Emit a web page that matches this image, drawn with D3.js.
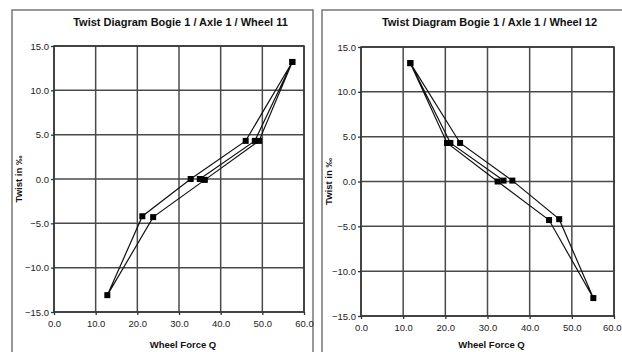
<!DOCTYPE html>
<html><head><meta charset="utf-8">
<script src="https://cdn.jsdelivr.net/npm/d3@7"></script>
<style>html,body{margin:0;padding:0;background:#fff;}svg{display:block;}</style>
</head><body>
<script>
const xTicks = [0, 10, 20, 30, 40, 50, 60];
const yTicks = [-15, -10, -5, 0, 5, 10, 15];
const titles = ["Twist Diagram Bogie 1 / Axle 1 / Wheel 11", "Twist Diagram Bogie 1 / Axle 1 / Wheel 12"];
const xLabel = "Wheel Force Q";
const yLabel = "Twist in ‰";
// measurement sequence, wheel 11
const forceQ11 = [35.0, 48.2, 57.2, 49.2, 36.2, 23.8, 12.8, 21.2, 32.8, 46.0, 57.2];
const twist11  = [0.0, 4.3, 13.2, 4.3, -0.1, -4.3, -13.1, -4.2, 0.0, 4.3, 13.2];
// measurement sequence, wheel 12
const forceQ12 = [33.8, 21.2, 11.7, 20.4, 32.4, 44.6, 55.1, 47.0, 35.9, 23.5, 11.7];
const twist12  = [0.1, 4.3, 13.2, 4.3, 0.0, -4.3, -13.0, -4.2, 0.1, 4.3, 13.2];

const W = 622, H = 352;
const svg = d3.select("body").append("svg").attr("width", W).attr("height", H)
  .style("font-family", "'Liberation Sans', Arial, sans-serif");

const panels = [
  {box: [12, 10, 301, 360], plot: [54, 304, 312, 46], title: titles[0], tx: 180.5, ylx: 19, xs: forceQ11, ys: twist11},
  {box: [322, 10, 320, 360], plot: [361, 614, 316, 47], title: titles[1], tx: 489.5, ylx: 329, xs: forceQ12, ys: twist12}
];

panels.forEach(p => {
  const g = svg.append("g");
  g.append("rect").attr("x", p.box[0]).attr("y", p.box[1]).attr("width", p.box[2]).attr("height", p.box[3])
    .attr("fill", "#fff").attr("stroke", "#777").attr("stroke-width", 1.5);
  const x = d3.scaleLinear().domain([0, 60]).range([p.plot[0], p.plot[1]]);
  const y = d3.scaleLinear().domain([-15, 15]).range([p.plot[2], p.plot[3]]);
  // grid
  g.append("g").selectAll("line.v").data(xTicks).join("line")
    .attr("x1", d => x(d)).attr("x2", d => x(d)).attr("y1", y(-15)).attr("y2", y(15))
    .attr("stroke", "#4a4a4a").attr("stroke-width", 1.5);
  g.append("g").selectAll("line.h").data(yTicks).join("line")
    .attr("x1", x(0)).attr("x2", x(60)).attr("y1", d => y(d)).attr("y2", d => y(d))
    .attr("stroke", "#4a4a4a").attr("stroke-width", 1.5);
  g.append("rect").attr("x", x(0)).attr("y", y(15)).attr("width", x(60) - x(0)).attr("height", y(-15) - y(15))
    .attr("fill", "none").attr("stroke", "#333").attr("stroke-width", 1.5);
  // axes
  const ax = g.append("g").attr("transform", `translate(0,${y(-15)})`)
    .call(d3.axisBottom(x).tickValues(xTicks).tickFormat(d3.format(".1f")).tickSize(3).tickPadding(5));
  const ay = g.append("g").attr("transform", `translate(${x(0)},0)`)
    .call(d3.axisLeft(y).tickValues(yTicks).tickFormat(d3.format(".1f")).tickSize(3).tickPadding(2));
  [ax, ay].forEach(a => {
    a.select(".domain").remove();
    a.selectAll(".tick line").attr("stroke", "#333").attr("stroke-width", 1.3);
    a.selectAll(".tick text").attr("fill", "#222").style("font-size", "9.5px").style("font-family", "'Liberation Sans', Arial, sans-serif");
  });
  // keep the last x label inside the window
  ax.selectAll(".tick text").filter(d => x(d) + 9 > W).attr("text-anchor", "end").attr("dx", W - 1 - x(60));
  // title
  g.append("text").attr("x", p.tx).attr("y", 26).attr("text-anchor", "middle")
    .style("font-size", "11px").style("font-weight", "bold").attr("fill", "#111").text(p.title);
  g.append("text").attr("x", (x(0) + x(60)) / 2 + 4).attr("y", 348).attr("text-anchor", "middle")
    .style("font-size", "9.5px").style("font-weight", "bold").attr("fill", "#111").text(xLabel);
  g.append("text").attr("transform", `translate(${p.ylx + 3},${(y(15) + y(-15)) / 2}) rotate(-90)`)
    .attr("text-anchor", "middle").style("font-size", "9.5px").style("font-weight", "bold").attr("fill", "#111").text(yLabel);
  // data
  const pts = p.xs.map((v, i) => [v, p.ys[i]]);
  g.append("path").datum(pts)
    .attr("d", d3.line().x(d => x(d[0])).y(d => y(d[1])))
    .attr("fill", "none").attr("stroke", "#111").attr("stroke-width", 1.2);
  g.append("g").selectAll("rect").data(pts).join("rect")
    .attr("x", d => x(d[0]) - 3).attr("y", d => y(d[1]) - 3).attr("width", 6).attr("height", 6)
    .attr("fill", "#000");
});
</script>
</body></html>
